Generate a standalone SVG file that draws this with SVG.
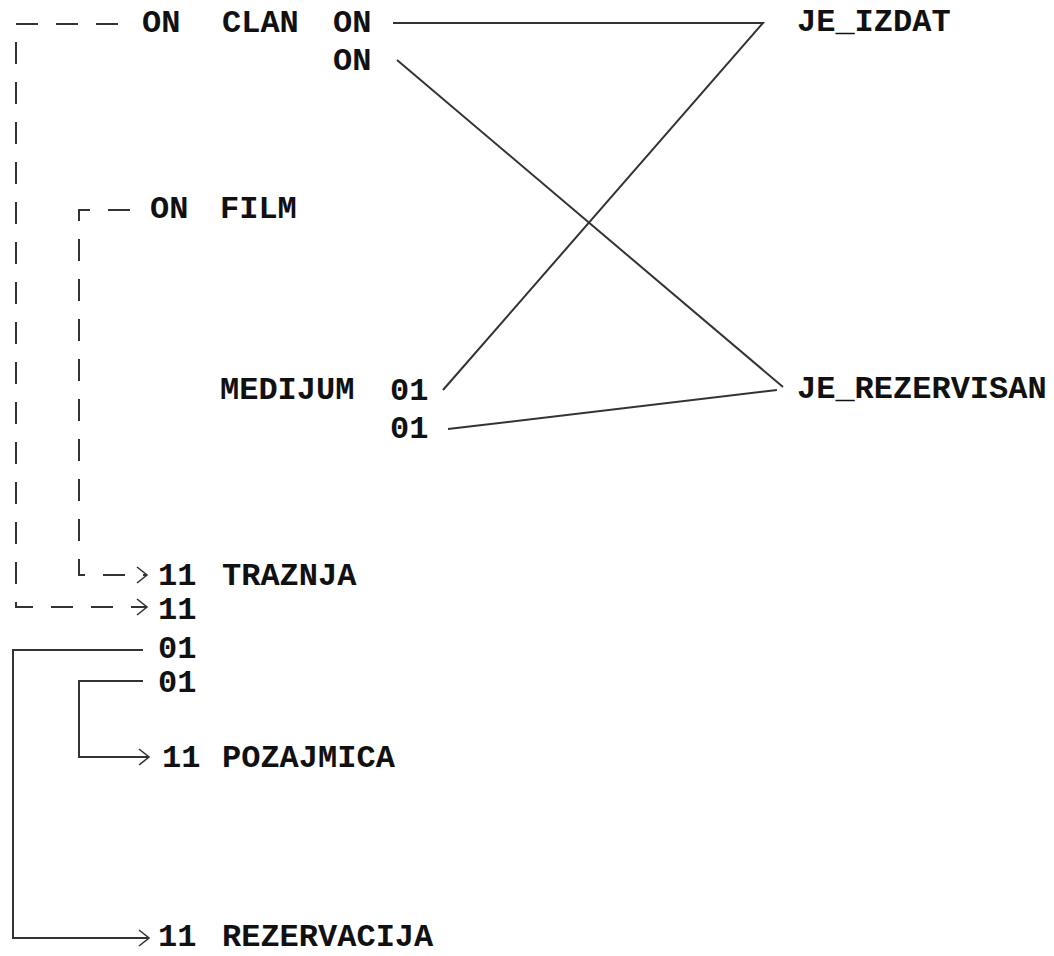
<svg xmlns="http://www.w3.org/2000/svg" width="1054" height="956" viewBox="0 0 1054 956">
<defs>
<style>
.t{font-family:"Liberation Mono","Courier New",monospace;font-weight:bold;font-size:32px;fill:#111;}
.c{fill:none;stroke:#333;stroke-width:2;}
.d{stroke-dasharray:22,18;}
</style>
<marker id="chev" markerUnits="userSpaceOnUse" markerWidth="14" markerHeight="20" refX="11" refY="9" orient="auto" viewBox="0 0 14 20">
<path d="M1,1 L11,9 L1,17" fill="none" stroke="#333" stroke-width="1.6"/>
</marker>
</defs>
<rect width="1054" height="956" fill="#fff"/>
<g id="connectors">
<path class="c d" d="M118,24 H16 V607 H147" marker-end="url(#chev)"/>
<path class="c d" d="M130,210 H79 V575 H147" marker-end="url(#chev)"/>
<path class="c" d="M143,650 H13 V938 H149" marker-end="url(#chev)"/>
<path class="c" d="M143,681 H79 V757 H149" marker-end="url(#chev)"/>
<path class="c" d="M393,23 H763 L443,390"/>
<path class="c" d="M397,60 L783,387"/>
<path class="c" d="M448,429 L777,390"/>
</g>
<g id="clan"><text class="t" x="142" y="32">ON</text><text class="t" x="222" y="32">CLAN</text><text class="t" x="333" y="32">ON</text><text class="t" x="333" y="70">ON</text></g>
<g id="je_izdat"><text class="t" x="797" y="31">JE_IZDAT</text></g>
<g id="film"><text class="t" x="150" y="218">ON</text><text class="t" x="220" y="218">FILM</text></g>
<g id="medijum"><text class="t" x="220" y="399">MEDIJUM</text><text class="t" x="390" y="400">01</text><text class="t" x="390" y="438">01</text></g>
<g id="je_rezervisan"><text class="t" x="797" y="398">JE_REZERVISAN</text></g>
<g id="traznja"><text class="t" x="158" y="585">11</text><text class="t" x="222" y="585">TRAZNJA</text><text class="t" x="158" y="619">11</text><text class="t" x="158" y="658">01</text><text class="t" x="158" y="692">01</text></g>
<g id="pozajmica"><text class="t" x="162" y="767">11</text><text class="t" x="222" y="767">POZAJMICA</text></g>
<g id="rezervacija"><text class="t" x="158" y="946">11</text><text class="t" x="222" y="946">REZERVACIJA</text></g>
</svg>
